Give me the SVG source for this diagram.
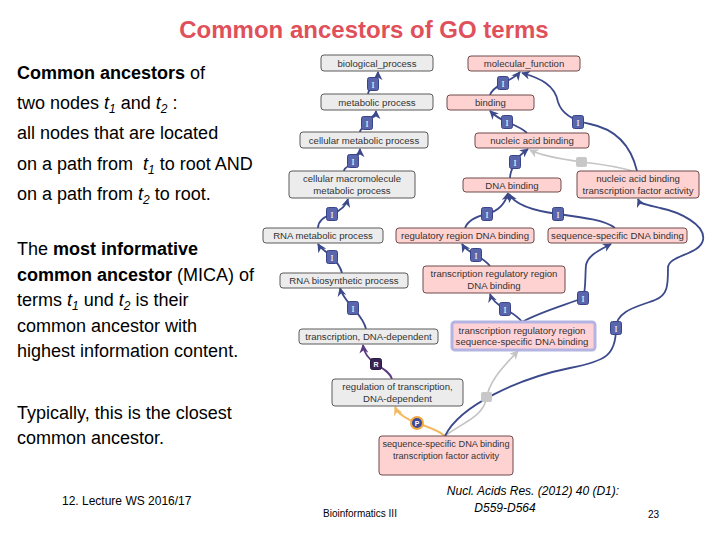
<svg xmlns="http://www.w3.org/2000/svg" width="720" height="540" viewBox="0 0 720 540">
<defs>
<style>
.t{font-family:"Liberation Sans",Arial,sans-serif;fill:#000}
.body{font-size:18px}
.b{font-weight:bold}
.i{font-style:italic}
.sub{font-size:12px}
.title{font-size:24px;font-weight:bold;fill:#e0505a}
.nt{font-family:"Liberation Sans",Arial,sans-serif;font-size:9.6px;fill:#333;text-anchor:middle}
.g{fill:#ececec;stroke:#5a5a5a;stroke-width:1}
.p{fill:#ffd2d2;stroke:#6e4a4a;stroke-width:1}
.pm{fill:#ffd2d8;stroke:#b4b4e2;stroke-width:3}
.e{fill:none;stroke:#3c4a8c;stroke-width:1.8}
.eg{fill:none;stroke:#c4c4c4;stroke-width:1.6}
.er{fill:none;stroke:#5a3a80;stroke-width:1.8}
.eo{fill:none;stroke:#f4b860;stroke-width:2}
.bi{fill:#5a66ac;stroke:#3a4488;stroke-width:1}
.bt{font-family:"Liberation Serif",serif;font-size:9px;fill:#fff;text-anchor:middle}
.small{font-size:12px}
</style>
<marker id="ab" viewBox="0 0 10 10" refX="9" refY="5" markerWidth="9" markerHeight="9" markerUnits="userSpaceOnUse" orient="auto"><path d="M0,0 L10,5 L0,10 L3,5 z" fill="#3c4a8c"/></marker>
<marker id="ag" viewBox="0 0 10 10" refX="9" refY="5" markerWidth="9" markerHeight="9" markerUnits="userSpaceOnUse" orient="auto"><path d="M0,0 L10,5 L0,10 L3,5 z" fill="#c4c4c4"/></marker>
<marker id="ar" viewBox="0 0 10 10" refX="9" refY="5" markerWidth="9" markerHeight="9" markerUnits="userSpaceOnUse" orient="auto"><path d="M0,0 L10,5 L0,10 L3,5 z" fill="#5a3a80"/></marker>
<marker id="ao" viewBox="0 0 10 10" refX="9" refY="5" markerWidth="9" markerHeight="9" markerUnits="userSpaceOnUse" orient="auto"><path d="M0,0 L10,5 L0,10 L3,5 z" fill="#f4b860"/></marker>
</defs>
<rect width="720" height="540" fill="#fff"/>

<text class="t title" x="364" y="38" text-anchor="middle">Common ancestors of GO terms</text>

<g id="left-text">
<text class="t body" x="17" y="79"><tspan class="b">Common ancestors</tspan> of</text>
<text class="t body" x="17" y="109">two nodes <tspan class="i">t</tspan><tspan class="i sub" dy="4">1</tspan><tspan dy="-4"> and </tspan><tspan class="i">t</tspan><tspan class="i sub" dy="4">2</tspan><tspan dy="-4"> :</tspan></text>
<text class="t body" x="17" y="139">all nodes that are located</text>
<text class="t body" x="17" y="170">on a path from <tspan class="i" dx="5">t</tspan><tspan class="i sub" dy="4">1</tspan><tspan dy="-4"> to root AND</tspan></text>
<text class="t body" x="17" y="200">on a path from <tspan class="i">t</tspan><tspan class="i sub" dy="4">2</tspan><tspan dy="-4"> to root.</tspan></text>
<text class="t body" x="17" y="255">The <tspan class="b">most informative</tspan></text>
<text class="t body" x="17" y="281"><tspan class="b">common ancestor</tspan> (MICA) of</text>
<text class="t body" x="17" y="306">terms <tspan class="i">t</tspan><tspan class="i sub" dy="4">1</tspan><tspan dy="-4"> und </tspan><tspan class="i">t</tspan><tspan class="i sub" dy="4">2</tspan><tspan dy="-4"> is their</tspan></text>
<text class="t body" x="17" y="332">common ancestor with</text>
<text class="t body" x="17" y="357">highest information content.</text>
<text class="t body" x="17" y="419">Typically, this is the closest</text>
<text class="t body" x="17" y="444">common ancestor.</text>
</g>

<g id="connectors">
<path class="e" marker-end="url(#ab)" d="M368,94 C368,89 373,89 373,84 C373,79 378,77 378,72"/>
<path class="e" marker-end="url(#ab)" d="M360,132 C360,127 367,128 367,123 C367,117 376,117 376,111"/>
<path class="e" marker-end="url(#ab)" d="M344,171 C344,166 353,166 353,161 C353,155 360,155 360,149"/>
<path class="e" marker-end="url(#ab)" d="M318,228 C318,220 326,216 332,214 C340,211 346,206 348,199"/>
<path class="e" marker-end="url(#ab)" d="M342,273 C340,265 336,261 332,257 C327,252 321,249 318,244"/>
<path class="e" marker-end="url(#ab)" d="M366,329 C364,320 358,314 353,308 C348,302 342,296 340,288"/>
<path class="er" marker-end="url(#ar)" d="M392,379 C390,372 382,368 376,364 C370,360 364,354 363,345"/>
<path class="eo" marker-end="url(#ao)" d="M445,436 C438,430 425,426 417,423 C408,420 398,414 395,407"/>
<path class="eg" marker-end="url(#ag)" d="M445,436 C458,425 482,418 486,400 C489,380 505,365 518,351"/>
<path class="e" marker-end="url(#ab)" d="M445,436 C460,405 520,378 570,368 C605,361 616,356 616,328 C616,310 640,306 655,300 C668,295 668,285 668,268 C668,255 700,255 703,240 C706,225 680,212 660,208 C648,205 640,204 638,199"/>
<path class="e" marker-end="url(#ab)" d="M522,322 C518,316 510,312 505,309 C498,305 492,300 490,294"/>
<path class="e" marker-end="url(#ab)" d="M522,322 C540,312 565,305 583,298 C586,290 585,275 586,265 C588,255 600,250 611,244"/>
<path class="e" marker-end="url(#ab)" d="M490,266 C486,261 481,258 476,255 C470,252 465,249 462,244"/>
<path class="e" marker-end="url(#ab)" d="M465,228 C468,220 478,216 487,214 C498,211 505,205 508,193"/>
<path class="e" marker-end="url(#ab)" d="M615,228 C605,220 580,217 558,214 C535,211 515,205 509,194"/>
<path class="e" marker-end="url(#ab)" d="M510,178 C510,172 513,167 515,162 C518,156 524,152 528,149"/>
<path class="e" marker-end="url(#ab)" d="M527,133 C522,128 514,125 507,122 C500,119 494,115 490,111"/>
<path class="e" marker-end="url(#ab)" d="M490,95 C492,89 498,86 503,83 C509,80 516,77 520,72"/>
<path class="e" marker-end="url(#ab)" d="M637,171 C632,150 620,130 590,124 C575,121 562,115 558,102 C555,85 540,78 522,73"/>
<path class="eg" marker-end="url(#ag)" d="M636,172 C620,167 600,164 582,162 C560,159 540,155 530,150"/>
<g id="badges">
<rect class="bi" x="367.5" y="77.5" width="11" height="13" rx="2"/><text class="bt" x="373" y="87.5">I</text>
<rect class="bi" x="361.5" y="116.5" width="11" height="13" rx="2"/><text class="bt" x="367" y="126.5">I</text>
<rect class="bi" x="347.5" y="154.5" width="11" height="13" rx="2"/><text class="bt" x="353" y="164.5">I</text>
<rect class="bi" x="326.5" y="207.5" width="11" height="13" rx="2"/><text class="bt" x="332" y="217.5">I</text>
<rect class="bi" x="326.5" y="250.5" width="11" height="13" rx="2"/><text class="bt" x="332" y="260.5">I</text>
<rect class="bi" x="347.5" y="301.5" width="11" height="13" rx="2"/><text class="bt" x="353" y="311.5">I</text>
<rect x="370.5" y="358.5" width="11" height="11" rx="2" fill="#3a2456" stroke="#2a1a40"/><text class="bt" x="376" y="367" style="font-family:'Liberation Sans',sans-serif;font-size:7px;font-weight:bold">R</text>
<circle cx="417" cy="423" r="6" fill="#3a4a9a" stroke="#f4a840" stroke-width="2"/><text class="bt" x="417" y="426" style="font-family:'Liberation Sans',sans-serif;font-size:7px;font-weight:bold">P</text>
<rect x="481" y="392" width="11" height="10" rx="2" fill="#c8c8c8"/>
<rect x="576" y="157" width="11" height="10" rx="2" fill="#c8c8c8"/>
<rect class="bi" x="610.5" y="321.5" width="11" height="13" rx="2"/><text class="bt" x="616" y="331.5">I</text>
<rect class="bi" x="499.5" y="302.5" width="11" height="13" rx="2"/><text class="bt" x="505" y="312.5">I</text>
<rect class="bi" x="577.5" y="291.5" width="11" height="13" rx="2"/><text class="bt" x="583" y="301.5">I</text>
<rect class="bi" x="470.5" y="248.5" width="11" height="13" rx="2"/><text class="bt" x="476" y="258.5">I</text>
<rect class="bi" x="481.5" y="207.5" width="11" height="13" rx="2"/><text class="bt" x="487" y="217.5">I</text>
<rect class="bi" x="552.5" y="207.5" width="11" height="13" rx="2"/><text class="bt" x="558" y="217.5">I</text>
<rect class="bi" x="509.5" y="155.5" width="11" height="13" rx="2"/><text class="bt" x="515" y="165.5">I</text>
<rect class="bi" x="501.5" y="115.5" width="11" height="13" rx="2"/><text class="bt" x="507" y="125.5">I</text>
<rect class="bi" x="497.5" y="76.5" width="11" height="13" rx="2"/><text class="bt" x="503" y="86.5">I</text>
<rect class="bi" x="572.5" y="115.5" width="11" height="13" rx="2"/><text class="bt" x="578" y="125.5">I</text>
</g>
</g>

<g id="n_bp"><rect class="g" x="321" y="55" width="112" height="16" rx="3"/><text class="nt" x="377" y="66.5">biological_process</text></g>
<g id="n_mp"><rect class="g" x="321" y="94" width="112" height="16" rx="3"/><text class="nt" x="377" y="105.5">metabolic process</text></g>
<g id="n_cmp"><rect class="g" x="300" y="132" width="128" height="16" rx="3"/><text class="nt" x="364" y="143.5">cellular metabolic process</text></g>
<g id="n_cmmp"><rect class="g" x="289" y="171" width="126" height="27" rx="3"/><text class="nt" x="352" y="182">cellular macromolecule</text><text class="nt" x="352" y="193.5">metabolic process</text></g>
<g id="n_rmp"><rect class="g" x="263" y="228" width="120" height="15" rx="3"/><text class="nt" x="323" y="239">RNA metabolic process</text></g>
<g id="n_rbp"><rect class="g" x="280" y="273" width="128" height="15" rx="3"/><text class="nt" x="344" y="284">RNA biosynthetic process</text></g>
<g id="n_tdd"><rect class="g" x="299" y="329" width="139" height="15" rx="3"/><text class="nt" x="368.5" y="340">transcription, DNA-dependent</text></g>
<g id="n_rtdd"><rect class="g" x="332" y="379" width="131" height="27" rx="3"/><text class="nt" x="397.5" y="390">regulation of transcription,</text><text class="nt" x="397.5" y="401.5">DNA-dependent</text></g>

<g id="n_mf"><rect class="p" x="468" y="56" width="112" height="15" rx="3"/><text class="nt" x="524" y="67">molecular_function</text></g>
<g id="n_bind"><rect class="p" x="447" y="95" width="87" height="15" rx="3"/><text class="nt" x="490.5" y="106">binding</text></g>
<g id="n_nab"><rect class="p" x="475" y="133" width="114" height="15" rx="3"/><text class="nt" x="532" y="144">nucleic acid binding</text></g>
<g id="n_dnab"><rect class="p" x="463" y="178" width="98" height="14" rx="3"/><text class="nt" x="512" y="188.5">DNA binding</text></g>
<g id="n_nabtfa"><rect class="p" x="577" y="171" width="122" height="27" rx="3"/><text class="nt" x="638" y="182">nucleic acid binding</text><text class="nt" x="638" y="193.5">transcription factor activity</text></g>
<g id="n_rrdb"><rect class="p" x="396" y="228" width="138" height="15" rx="3"/><text class="nt" x="465" y="239">regulatory region DNA binding</text></g>
<g id="n_ssdb"><rect class="p" x="548" y="228" width="139" height="15" rx="3"/><text class="nt" x="617.5" y="239">sequence-specific DNA binding</text></g>
<g id="n_trrdb"><rect class="p" x="423" y="266" width="142" height="27" rx="3"/><text class="nt" x="494" y="277">transcription regulatory region</text><text class="nt" x="494" y="288.5">DNA binding</text></g>
<g id="n_trrssdb"><rect class="pm" x="452" y="322" width="143" height="28" rx="3"/><text class="nt" x="522" y="333.5">transcription regulatory region</text><text class="nt" x="522" y="345">sequence-specific DNA binding</text></g>
<g id="n_ssdbtfa"><rect class="p" x="379" y="436" width="134" height="39" rx="3"/><text class="nt" x="446" y="447" style="font-size:9.2px">sequence-specific DNA binding</text><text class="nt" x="446" y="459" style="font-size:9.2px">transcription factor activity</text></g>

<g id="footer">
<text class="t small" x="62" y="505">12. Lecture WS 2016/17</text>
<text class="t" x="323" y="517" style="font-size:10px">Bioinformatics III</text>
<text class="t small i" x="533" y="495" text-anchor="middle">Nucl. Acids Res. (2012) 40 (D1):</text>
<text class="t small i" x="505" y="512" text-anchor="middle">D559-D564</text>
<text class="t" x="648" y="518" style="font-size:10px">23</text>
</g>
</svg>
